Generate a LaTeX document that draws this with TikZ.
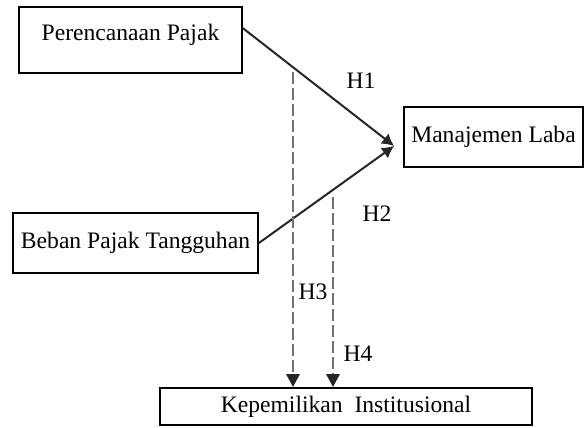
\documentclass[tikz,border=0pt]{standalone}
\usepackage{fontspec}
\setmainfont{Liberation Serif}
\usetikzlibrary{arrows.meta}

\begin{document}
\begin{tikzpicture}[x=0.5pt,y=-0.5pt,
    font=\fontsize{11.8pt}{14pt}\selectfont,
    varbox/.style={draw,line width=0.9pt,inner sep=1pt},
    hline/.style={line width=1pt,draw=black!85,-{Latex[length=6pt,width=6.5pt]}},
    dline/.style={line width=1.4pt,draw=black!55,dash pattern=on 6pt off 2pt,
        -{Triangle[black!85,length=6.5pt,width=6.5pt]}}]
            \useasboundingbox (0,0) rectangle (587,427);

            % Draw the variable boxes
            \node[varbox,minimum width=111.5pt,minimum height=33pt] (pp) at (130.5,40) {\raisebox{2.5pt}[0.7em][0.2em]{Perencanaan Pajak}};
            \node[varbox,minimum width=89.5pt,minimum height=30pt] (ml) at (493.5,137) {Manajemen Laba};
            \node[varbox,minimum width=122.5pt,minimum height=30pt] (bpt) at (135.5,243) {Beban Pajak Tangguhan};
            \node[varbox,minimum width=186pt,minimum height=18.5pt] (ki) at (346,406.5) {Kepemilikan\ \ Institusional};

            % Where the arrows meet and where the dashed ones start
            \coordinate (hub) at ([xshift=-4.5pt,yshift=-4.5pt]ml.west);
            \coordinate (d1) at (293,72);
            \coordinate (d2) at (333,197);

            % Connect the boxes
            \draw[hline] (pp.6) -- (hub); % H1
            \draw[hline] (bpt.east) -- (hub); % H2
            \draw[dline] (d1) -- (d1 |- ki.north); % H3
            \draw[dline] (d2) -- (d2 |- ki.north); % H4

            % Label the hypotheses
            \node (h1) at (361,81) {H1};
            \node (h2) at (377,214) {H2};
            \node (h3) at (313,292) {H3};
            \node (h4) at (358,354) {H4};
        \end{tikzpicture}
\end{document}
